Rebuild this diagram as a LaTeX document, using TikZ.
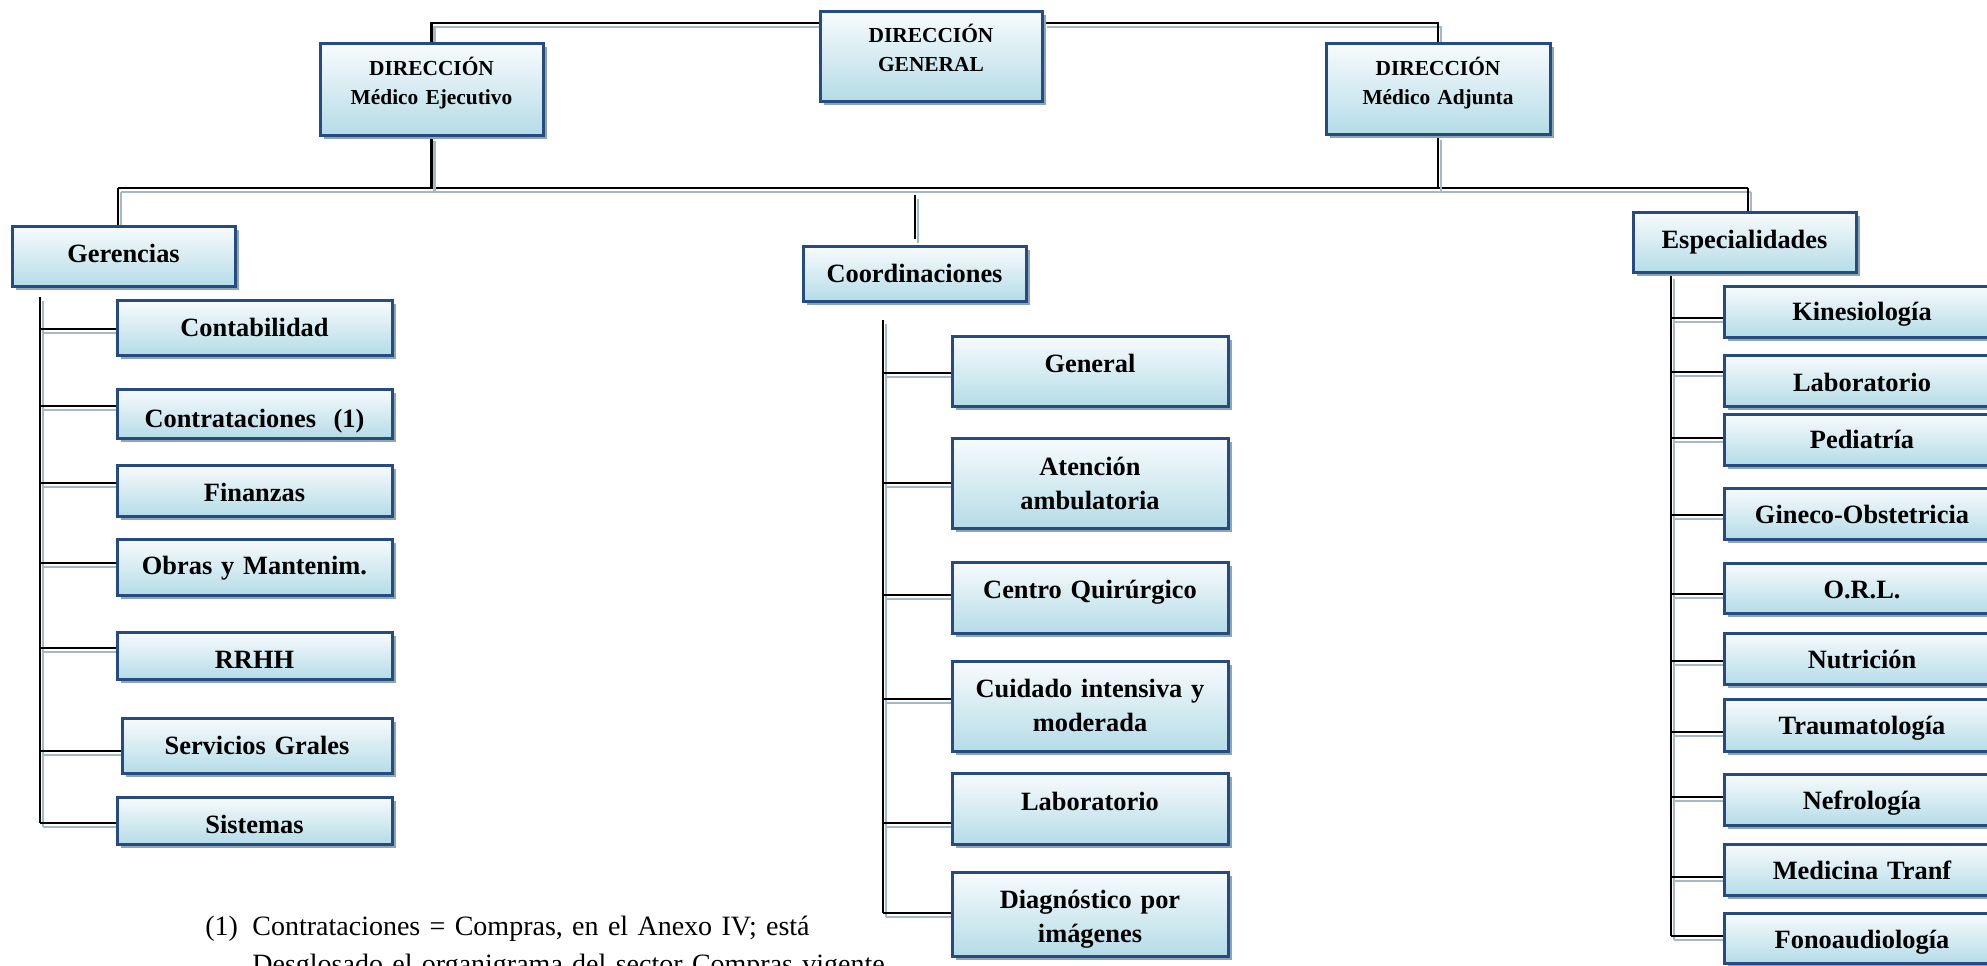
\documentclass[tikz,border=0pt]{standalone}
\usepackage{fontspec}
\setmainfont{Liberation Serif}
\usetikzlibrary{fit,shadows,calc}

\definecolor{boxedge}{HTML}{264A82}
\definecolor{boxtop}{HTML}{F8FBFD}
\definecolor{boxbottom}{HTML}{B5DCE7}
\definecolor{boxshade}{HTML}{8CA6B2}
\definecolor{lineshade}{HTML}{A3BAC4}

\pgfdeclarelayer{links}
\pgfsetlayers{links,main}

\tikzset{
  unitbox/.style={rectangle, draw=boxedge, line width=1.5pt, inner sep=0pt,
    top color=boxtop, bottom color=boxbottom,
    drop shadow={shadow xshift=1.8pt, shadow yshift=-2.2pt, fill=boxshade, opacity=1}},
  unittext/.style={inner sep=0pt, text width=140pt, align=center,
    font=\fontsize{13.2}{17.4}\selectfont\bfseries},
  toptext/.style={inner sep=0pt, text width=105pt, align=center,
    font=\fontsize{10.7}{14.5}\selectfont\bfseries},
  note/.style={inner sep=0pt, font=\fontsize{14}{19}\selectfont},
  link/.style={draw=black, line width=1.1pt,
    preaction={draw=lineshade, line width=1.1pt,
      transform canvas={xshift=1.5pt, yshift=-2pt}}}
}

% a unit: [text style]{name}{x1}{y1}{x2}{y2}{first baseline}{label}
\newcommand\orgunit[8][unittext]{%
  \node[unitbox, fit={(#3,#4) (#5,#6)}] (#2) {};
  \coordinate (#2-bl) at (0,#7);
  \node[#1, anchor=base] (#2-t) at (#2.center |- #2-bl) {#8};
}
% horizontal branch from a bar to a unit, shifted by #3 (downwards)
\newcommand\branch[3]{%
  \draw[link] ($(#1 |- #2.west)+(0,#3)$) -- ($(#2.west)+(0,#3)$);
}

\begin{document}
\begin{tikzpicture}[x=0.5pt, y=-0.5pt]
\useasboundingbox (0,0) rectangle (1987,965);
\clip (0,0) rectangle (1987,965);

% directions
\orgunit[toptext]{dg}{820}{11}{1042}{101}{42}{DIRECCIÓN\\GENERAL}
\orgunit[toptext]{dme}{320}{43}{543}{135}{75}{DIRECCIÓN\\Médico Ejecutivo}
\orgunit[toptext]{dma}{1326}{43}{1550}{134}{75}{DIRECCIÓN\\Médico Adjunta}

% gerencias
\orgunit{ger}{12}{226}{235}{286}{262}{Gerencias}
\orgunit{cont}{117}{300}{392}{355}{336}{Contabilidad}
\orgunit{contr}{117}{389}{392}{438}{427}{Contrataciones\ \ (1)}
\orgunit{fin}{117}{465}{392}{516}{501}{Finanzas}
\orgunit{obras}{117}{539}{392}{595}{574}{Obras y Mantenim.}
\orgunit{rrhh}{117}{632}{392}{679}{668}{RRHH}
\orgunit{serv}{122}{718}{392}{773}{754}{Servicios Grales}
\orgunit{sist}{117}{797}{392}{844}{833}{Sistemas}

% coordinaciones
\orgunit{coo}{803}{246}{1026}{301}{282}{Coordinaciones}
\orgunit{cgen}{952}{336}{1228}{406}{372}{General}
\orgunit{caten}{952}{438}{1228}{528}{475}{Atención\\ambulatoria}
\orgunit{cquir}{952}{562}{1228}{633}{598}{Centro Quirúrgico}
\orgunit{ccuid}{952}{661}{1228}{751}{697}{Cuidado intensiva y\\moderada}
\orgunit{clab}{952}{773}{1228}{844}{810}{Laboratorio}
\orgunit{cdiag}{952}{872}{1228}{956}{908}{Diagnóstico por\\imágenes}

% especialidades
\orgunit{esp}{1633}{212}{1856}{272}{248}{Especialidades}
\orgunit{ekin}{1724}{286}{2000}{337}{320}{Kinesiología}
\orgunit{elab}{1724}{355}{2000}{406}{391}{Laboratorio}
\orgunit{eped}{1724}{414}{2000}{465}{448}{Pediatría}
\orgunit{egin}{1724}{488}{2000}{539}{523}{Gineco-Obstetricia}
\orgunit{eorl}{1724}{563}{2000}{613}{598}{O.R.L.}
\orgunit{enut}{1724}{633}{2000}{684}{668}{Nutrición}
\orgunit{etrau}{1724}{699}{2000}{751}{734}{Traumatología}
\orgunit{enef}{1724}{774}{2000}{825}{809}{Nefrología}
\orgunit{emed}{1724}{844}{2000}{895}{879}{Medicina Tranf}
\orgunit{efono}{1724}{913}{2000}{963}{948}{Fonoaudiología}

% footnote
\node[note, anchor=base west] (fnmark) at (205,935) {(1)};
\node[note, anchor=base west, text width=450pt, align=left] (fntext) at (252,935)
  {Contrataciones = Compras, en el Anexo IV; está\\Desglosado el organigrama del sector Compras vigente};

\begin{pgfonlayer}{links}
  % top level
  \coordinate (ytop) at (0,23);
  \draw[link] (dme.north) |- (dg.west |- ytop);
  \draw[link] (dg.east |- ytop) -| (dma.north);
  \coordinate (hl) at (118,188);
  \coordinate (hr) at (1748,188);
  \draw[link] (hl) -- (hr);
  \draw[link] (dme.south) -- (dme.south |- hl);
  \draw[link] (dma.south) -- (dma.south |- hl);
  \draw[link] (hl) -- (hl |- ger.north);
  \draw[link] (hr) -- (hr |- esp.north);
  \coordinate (cm) at (915,195);
  \draw[link] (cm) -- ($(cm |- coo.north)+(0,-6)$);

  % gerencias bar
  \coordinate (gtop) at (40,297);
  \coordinate (gbot) at (40,823);
  \draw[link] (gtop) -- (gbot);
  \branch{gtop}{cont}{1.5}
  \branch{gtop}{contr}{-7.5}
  \branch{gtop}{fin}{-7.5}
  \branch{gtop}{obras}{-4}
  \branch{gtop}{rrhh}{-7.5}
  \branch{gtop}{serv}{5.5}
  \branch{gtop}{sist}{2.5}

  % coordinaciones bar
  \coordinate (ctop) at (883,320);
  \coordinate (cbot) at (883,913);
  \draw[link] (ctop) -- (cbot);
  \branch{ctop}{cgen}{2}
  \branch{ctop}{caten}{0}
  \branch{ctop}{cquir}{-2.5}
  \branch{ctop}{ccuid}{-7}
  \branch{ctop}{clab}{14.5}
  \branch{ctop}{cdiag}{-1}

  % especialidades bar
  \coordinate (etop) at (1671,275);
  \coordinate (ebot) at (1671,936);
  \draw[link] (etop) -- (ebot);
  \branch{etop}{ekin}{6.5}
  \branch{etop}{elab}{-8.5}
  \branch{etop}{eped}{-1.5}
  \branch{etop}{egin}{1.5}
  \branch{etop}{eorl}{6}
  \branch{etop}{enut}{2.5}
  \branch{etop}{etrau}{7}
  \branch{etop}{enef}{-2.5}
  \branch{etop}{emed}{7.5}
  \branch{etop}{efono}{-2}
\end{pgfonlayer}
\end{tikzpicture}
\end{document}
